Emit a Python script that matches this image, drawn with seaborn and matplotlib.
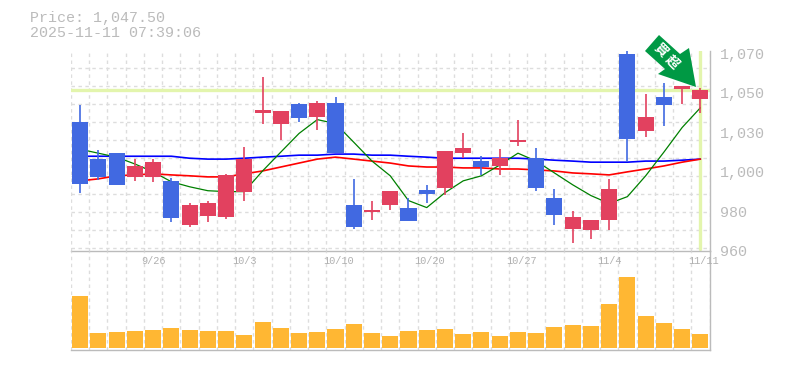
import numpy as np
import pandas as pd
import seaborn as sns
import matplotlib.pyplot as plt
from matplotlib.patches import Polygon
from matplotlib.transforms import Affine2D

opens = [1031.5, 1010.6, 1013.9, 1000.7, 1000.7, 998.5, 973.8, 978.7, 978.2, 992.5, 1036.5, 1030.4, 1041.4, 1034.2, 1041.9, 985.3, 980.9, 984.8,
         983.1, 993.5, 994.6, 1013.9, 1009.5, 1006.8, 1020.0, 1011.2, 989.2, 971.6, 971.0, 976.5, 1068.9, 1026.0, 1045.2, 1049.7, 1044.2]
closes = [996.9, 1000.7, 996.3, 1006.7, 1008.9, 977.6, 985.3, 985.9, 1001.8, 1010.6, 1038.1, 1037.6, 1033.7, 1041.9, 1013.9, 972.7, 982.5, 993.0,
          976.0, 991.4, 1015.0, 1016.6, 1006.2, 1011.2, 1021.1, 994.7, 979.3, 978.2, 976.5, 994.1, 1021.6, 1034.3, 1040.9, 1051.3, 1049.1]
highs = [1040.9, 1015.5, 1013.9, 1010.6, 1010.6, 1000.2, 985.9, 987.5, 1002.4, 1017.2, 1056.2, 1037.6, 1041.9, 1043.0, 1045.2, 999.6, 987.0, 993.0,
         989.2, 996.3, 1015.0, 1024.9, 1012.2, 1016.1, 1032.6, 1016.7, 994.1, 981.5, 976.5, 999.6, 1071.1, 1046.9, 1052.9, 1051.3, 1050.2]
lows = [991.9, 999.1, 996.3, 998.5, 998.0, 975.4, 972.7, 975.4, 977.1, 987.5, 1029.9, 1021.0, 1031.5, 1026.6, 1013.9, 971.6, 976.5, 982.5,
        976.0, 986.4, 990.8, 1011.2, 1001.8, 1001.8, 1017.8, 993.0, 973.8, 963.9, 966.1, 971.0, 1008.9, 1022.7, 1028.8, 1041.4, 1036.5]
ma_short = [1016.1, 1013.9, 1011.7, 1007.9, 1003.5, 998.0, 995.2, 993.0, 992.5, 992.5, 1004.0, 1014.5, 1024.9, 1032.6, 1030.4, 1020.0, 1009.5, 1001.3,
            987.5, 983.6, 991.9, 998.5, 1001.3, 1007.3, 1013.9, 1009.5, 1002.9, 996.3, 990.3, 985.9, 989.7, 1001.3, 1014.5, 1028.2, 1039.2]
ma_mid = [998.5, 999.6, 1001.3, 1001.8, 1002.4, 1001.8, 1001.3, 1000.7, 1000.7, 1002.4, 1004.0, 1006.2, 1008.4, 1010.6, 1011.7, 1010.6, 1009.5, 1008.4,
          1006.8, 1006.2, 1006.2, 1005.7, 1005.7, 1005.1, 1005.1, 1004.6, 1004.0, 1002.9, 1002.4, 1001.8, 1003.5, 1005.1, 1006.8, 1008.9, 1010.6]
ma_long = [1012.2, 1012.2, 1012.2, 1012.2, 1012.2, 1012.2, 1011.1, 1010.6, 1010.6, 1011.1, 1011.7, 1012.2, 1012.8, 1012.8, 1013.4, 1013.4, 1012.8, 1012.8,
           1012.2, 1011.7, 1011.1, 1011.1, 1011.1, 1011.1, 1011.1, 1010.6, 1010.0, 1009.5, 1008.9, 1008.9, 1008.9, 1009.5, 1009.5, 1010.0, 1010.6]
volume = [52, 15, 16, 17, 18, 20, 18, 17, 17, 13, 26, 20, 15, 16, 19, 24, 15, 12,
          17, 18, 19, 14, 16, 12, 16, 15, 21, 23, 22, 44, 71, 32, 25, 19, 14]
date_idx = [4, 9, 14, 19, 24, 29, 34]
date_labels = ['9/26', '10/3', '10/10', '10/20', '10/27', '11/4', '11/11']
price_ticks = [960, 982, 1004, 1026, 1048, 1070]
price_labels = ['960', '980', '1,000', '1,030', '1,050', '1,070']
current_price = 1048.9

W, H = 785, 370
BLUE = '#4169E1'
RED = '#E2415F'
PALE = '#E3F5AD'
GRID = '#DDDDDD'
TXT = '#BBBBBB'
y_min, y_max = 961.1, 1071.1

sns.set_style('white')
plt.rcParams['font.family'] = ['Liberation Mono', 'Noto Sans CJK JP', 'DejaVu Sans']

days = np.arange(len(volume))
df = pd.DataFrame({'day': days, 'open': opens, 'close': closes, 'high': highs, 'low': lows,
                   'ma_short': ma_short, 'ma_mid': ma_mid, 'ma_long': ma_long, 'volume': volume})
df['color'] = np.where(df['close'] >= df['open'], RED, BLUE)

fig = plt.figure(figsize=(W / 100, H / 100), dpi=100)
ax = fig.add_axes([71 / W, 1 - 250.5 / H, 638.5 / W, 200 / H])
ax_v = fig.add_axes([71 / W, 1 - 350 / H, 638.5 / W, 99.5 / H], facecolor='none')


def style_axes(a):
    a.set_xticks(np.arange(-0.5, len(days)))
    a.tick_params(axis='x', length=0, labelbottom=False)
    a.grid(True, axis='x', color=GRID, lw=1, linestyle=(0, (2.5, 2.5)))
    a.set_axisbelow(True)
    a.set_xlabel('')
    a.set_ylabel('')
    for side in ['left', 'top']:
        a.spines[side].set_visible(False)
    for side in ['right', 'bottom']:
        a.spines[side].set_color(TXT)
        a.spines[side].set_linewidth(1.0)


# candles
ax.axhline(current_price, color=PALE, lw=2.4, zorder=1)
ax.axvline(34, ymin=0.01, color=PALE, lw=2.4, zorder=1)
sns.lineplot(data=df, x='day', y='ma_long', color='#0000FF', lw=1.2, ax=ax, zorder=2)
sns.lineplot(data=df, x='day', y='ma_mid', color='#FF0000', lw=1.2, ax=ax, zorder=2)
sns.lineplot(data=df, x='day', y='ma_short', color='#008000', lw=0.9, ax=ax, zorder=2)
ax.vlines(df['day'], df['low'], df['high'], colors=df['color'], lw=1.2, zorder=3)
ax.bar(df['day'], (df['close'] - df['open']).abs(), bottom=df[['open', 'close']].min(axis=1),
       width=0.88, color=df['color'], linewidth=0, zorder=3)
style_axes(ax)
ax.set_xlim(-0.5, len(days) - 0.5)
ax.set_ylim(y_min, y_max)
ax.set_yticks(np.arange(y_min, y_max, 10))
ax.grid(True, axis='y', color=GRID, lw=1, linestyle=(0, (2.5, 2.5)))
ax.tick_params(axis='y', which='major', length=0, labelright=False, labelleft=False)
ax.set_yticks(np.array(price_ticks) - 0.3, price_labels, minor=True)
ax.tick_params(axis='y', which='minor', length=0, labelleft=False, labelright=True, pad=7.5,
               labelsize=10.8, labelcolor=TXT)

# volume
sns.barplot(data=df, x='day', y='volume', native_scale=True, color='#FFB733', saturation=1,
            width=0.88, ax=ax_v, linewidth=0, zorder=3)
style_axes(ax_v)
ax_v.set_xlim(-0.5, len(days) - 0.5)
ax_v.set_ylim(-2, 97.5)
ax_v.set_yticks([])
for i, lab in zip(date_idx, date_labels):
    ax_v.annotate(lab, xy=(i, 97.5), xytext=(-8.7, -7.5), textcoords='offset points',
                  ha='left', va='center', fontsize=7.4, color='#B0B0B0', zorder=5)

fig.text(30 / W, 1 - 18 / H, 'Price: 1,047.50', fontsize=10.8, color=TXT, ha='left', va='center')
fig.text(30 / W, 1 - 33 / H, '2025-11-11 07:39:06', fontsize=10.8, color=TXT, ha='left', va='center')

# badge arrow
to_fig = Affine2D().scale(1 / W, -1 / H).translate(0, 1) + fig.transFigure
arrow = [(659, 35), (680, 54), (689, 48), (696, 87), (658, 74), (665, 69), (645, 51)]
fig.add_artist(Polygon(arrow, closed=True, facecolor='#009944', edgecolor='none', transform=to_fig, zorder=10))
for ch, cx, cy in [('買', 660, 51), ('超', 672, 63)]:
    fig.text(cx / W, 1 - cy / H, ch, fontsize=9.5, fontweight='bold', color='white', rotation=-45,
             rotation_mode='anchor', ha='center', va='center', zorder=11)

fig.savefig('out.png', dpi=100)
